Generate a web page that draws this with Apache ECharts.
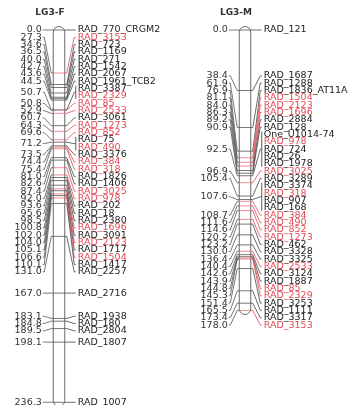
<!DOCTYPE html>
<html>
<head>
<meta charset="utf-8">
<script src="https://cdn.jsdelivr.net/npm/echarts@6/dist/echarts.min.js"></script>
<style>
  html, body { margin: 0; padding: 0; background: #fff; }
  #chart { width: 354px; height: 405px; }
</style>
</head>
<body>
<div id="chart"></div>
<script>
// LG3-F markers and their map positions (cM)
const lg3fMarkers = ['RAD_770_CRGM2', 'RAD_3153', 'RAD_723', 'RAD_1169', 'RAD_271', 'RAD_1542', 'RAD_2067',
  'RAD_1961_TCB2', 'RAD_3387', 'RAD_2329', 'RAD_85', 'RAD_2533', 'RAD_3061', 'RAD_1273', 'RAD_852', 'RAD_75',
  'RAD_490', 'RAD_3376', 'RAD_384', 'RAD_318', 'RAD_1826', 'RAD_1406', 'RAD_3025', 'RAD_978', 'RAD_202', 'RAD_18',
  'RAD_2380', 'RAD_1696', 'RAD_3091', 'RAD_2123', 'RAD_1717', 'RAD_1504', 'RAD_1417', 'RAD_2257', 'RAD_2716',
  'RAD_1938', 'RAD_180', 'RAD_2804', 'RAD_1807', 'RAD_1007']
const lg3fPos = [0.0, 27.3, 34.6, 36.5, 40.0, 42.7, 43.6, 44.5, 50.7, 50.7, 50.8, 52.9, 60.7, 64.3, 69.6, 71.2,
  71.2, 73.5, 74.4, 75.4, 81.0, 82.6, 87.4, 92.0, 93.6, 95.6, 98.5, 100.8, 102.0, 104.0, 105.1, 106.6, 110.1,
  131.0, 167.0, 183.1, 184.8, 189.5, 198.1, 236.3]

// LG3-M markers and positions
const lg3mMarkers = ['RAD_121', 'RAD_1687', 'RAD_1288', 'RAD_1836_AT11A', 'RAD_1504', 'RAD_2123', 'RAD_1696',
  'RAD_2884', 'RAD_128', 'One_U1014-74', 'RAD_978', 'RAD_724', 'RAD_26', 'RAD_1978', 'RAD_3025', 'RAD_3289',
  'RAD_3374', 'RAD_318', 'RAD_907', 'RAD_168', 'RAD_384', 'RAD_490', 'RAD_852', 'RAD_1273', 'RAD_462', 'RAD_3328',
  'RAD_3325', 'RAD_2533', 'RAD_3124', 'RAD_1887', 'RAD_85', 'RAD_2329', 'RAD_3253', 'RAD_1111', 'RAD_3317', 'RAD_3153']
const lg3mPos = [0.0, 38.4, 61.9, 76.9, 81.1, 84.0, 86.3, 89.2, 90.9, 92.5, 92.5, 92.5, 92.5, 92.5, 96.9, 105.4,
  107.6, 107.6, 107.6, 107.6, 108.7, 111.6, 114.6, 120.2, 123.2, 130.0, 136.4, 140.4, 142.6, 143.9, 144.8, 145.3,
  151.4, 165.5, 173.4, 178.0]

// markers found on both maps (drawn in red)
const sharedMarkers = ['RAD_3153', 'RAD_2329', 'RAD_85', 'RAD_2533', 'RAD_1273', 'RAD_852', 'RAD_490', 'RAD_384',
  'RAD_318', 'RAD_3025', 'RAD_978', 'RAD_1696', 'RAD_2123', 'RAD_1504']

const chartTitles = ['LG3-F', 'LG3-M']

const RED = '#e24a55'
const DARK = '#222'
const FONT = '"DejaVu Sans", Verdana, sans-serif'

const gridTop = 30
const gridBottom = 2.7
const chartHeight = 405
const yMax = 236.3
const labelGap = 7.33 // px between stacked labels
const barWidth = 11.5
const gapCM = labelGap * yMax / (chartHeight - gridTop - gridBottom)

function buildGroups(pos, names) {
  const groups = []
  pos.forEach((p, i) => {
    const last = groups[groups.length - 1]
    if (last && last.pos === p) last.names.push(names[i])
    else groups.push({ pos: p, names: [names[i]] })
  })

  // spread labels so they do not overlap
  const blocks = groups.map((g) => ({ gs: [g], n: g.names.length }))
  const place = (b) => {
    const lo = b.gs[0].pos
    const hi = b.gs[b.gs.length - 1].pos
    b.start = Math.max(0, (lo + hi) / 2 - ((b.n - 1) * gapCM) / 2)
  }
  blocks.forEach(place)
  let changed = true
  while (changed) {
    changed = false
    for (let i = 0; i < blocks.length - 1; i++) {
      const a = blocks[i]
      const b = blocks[i + 1]
      if (a.start + a.n * gapCM > b.start + 1e-9) {
        a.gs = a.gs.concat(b.gs)
        a.n += b.n
        place(a)
        blocks.splice(i + 1, 1)
        changed = true
        break
      }
    }
  }
  blocks.forEach((b) => {
    let k = 0
    b.gs.forEach((g) => {
      g.labelAt = g.names.map(() => b.start + k++ * gapCM)
    })
  })
  return groups
}

const maps = [buildGroups(lg3fPos, lg3fMarkers), buildGroups(lg3mPos, lg3mMarkers)]

function isShared(name) {
  return sharedMarkers.indexOf(name) >= 0
}

function groupRenderer(groups) {
  return function (params, api) {
    const g = groups[params.dataIndex]
    const pt = api.coord([0, g.pos])
    const cx = pt[0]
    const py = pt[1]
    const barL = cx - barWidth / 2
    const barR = cx + barWidth / 2
    const ys = g.labelAt.map((v) => api.coord([0, v])[1])
    const midY = (ys[0] + ys[ys.length - 1]) / 2
    const allRed = g.names.every(isShared)
    const lineColor = allRed ? RED : '#444'
    const children = [
      {
        type: 'line',
        shape: { x1: barL, y1: py, x2: barR, y2: py },
        style: { stroke: allRed ? '#ec737a' : '#555', lineWidth: 0.8 }
      },
      {
        type: 'polyline',
        shape: { points: [[barL, py], [barL - 2, py], [barL - 9, midY], [barL - 10.5, midY]] },
        style: { stroke: '#555', lineWidth: 0.8, fill: null }
      },
      {
        type: 'text',
        style: {
          text: g.pos.toFixed(1), x: barL - 11.5, y: midY, align: 'right', verticalAlign: 'middle',
          font: '9.5px ' + FONT, fill: '#333'
        }
      },
      {
        type: 'polyline',
        shape: { points: [[barR, py], [barR + 2, py], [barR + 9.5, midY], [barR + 11, midY]] },
        style: { stroke: lineColor, lineWidth: 0.8, fill: null }
      }
    ]
    if (ys.length > 1) {
      children.push({
        type: 'line',
        shape: { x1: barR + 11, y1: ys[0] - 3, x2: barR + 11, y2: ys[ys.length - 1] + 3 },
        style: { stroke: '#333', lineWidth: 0.8 }
      })
    }
    g.names.forEach((name, k) => {
      children.push({
        type: 'text',
        style: {
          text: name, x: barR + 13, y: ys[k], align: 'left', verticalAlign: 'middle',
          font: '9.5px ' + FONT, fill: isShared(name) ? RED : DARK
        }
      })
    })
    return { type: 'group', children }
  }
}

function barRenderer(params, api) {
  const top = api.coord([0, api.value(0)])
  const bottom = api.coord([0, api.value(1)])
  return {
    type: 'rect',
    shape: { x: top[0] - barWidth / 2, y: top[1] - 3.5, width: barWidth, height: bottom[1] - top[1] + 7.5, r: barWidth / 2 },
    style: { fill: '#fff', stroke: '#6a6a6a', lineWidth: 1 }
  }
}

const gridLefts = [0, 186]
const titleX = [50, 236]

const chart = echarts.init(document.getElementById('chart'))

const series = []
maps.forEach((groups, m) => {
  series.push({
    type: 'custom',
    xAxisIndex: m,
    yAxisIndex: m,
    renderItem: barRenderer,
    clip: false,
    silent: true,
    z: 1,
    data: [[groups[0].pos, groups[groups.length - 1].pos]]
  })
  series.push({
    type: 'custom',
    xAxisIndex: m,
    yAxisIndex: m,
    renderItem: groupRenderer(groups),
    clip: false,
    silent: true,
    z: 2,
    data: groups.map((g, i) => [i, g.pos])
  })
})

chart.setOption({
  animation: false,
  graphic: chartTitles.map((t, m) => ({
    type: 'text',
    x: titleX[m],
    y: 13,
    style: { text: t, align: 'center', verticalAlign: 'middle', font: 'bold 9px ' + FONT, fill: '#333' }
  })),
  grid: gridLefts.map((left) => ({ left, width: 118, top: gridTop, bottom: gridBottom })),
  xAxis: gridLefts.map((_, m) => ({ type: 'value', gridIndex: m, min: -1, max: 1, show: false })),
  yAxis: gridLefts.map((_, m) => ({ type: 'value', gridIndex: m, min: 0, max: yMax, inverse: true, show: false })),
  series
})
</script>
</body>
</html>
